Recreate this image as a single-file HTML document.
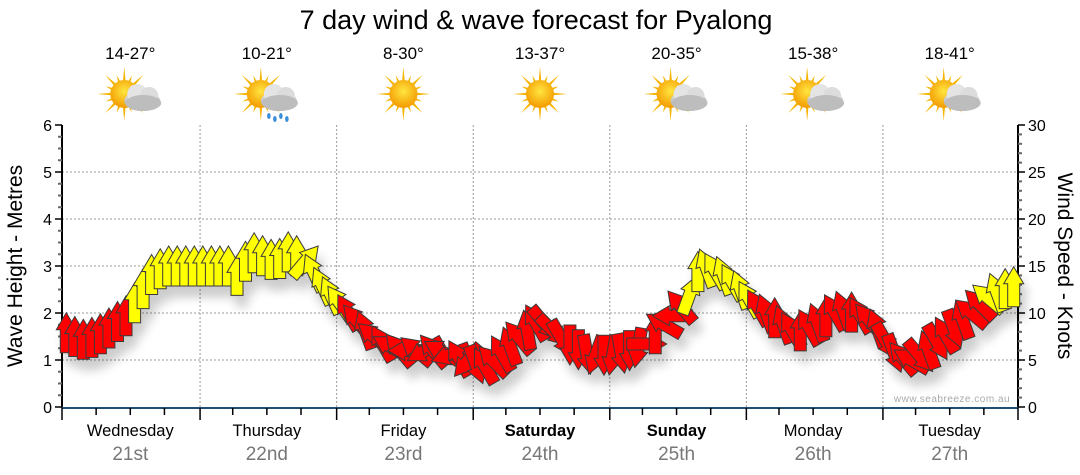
<!DOCTYPE html>
<html><head><meta charset="utf-8">
<style>
body{margin:0;background:#fff;}
svg{display:block;font-family:"Liberation Sans",sans-serif;}
</style></head>
<body>
<svg id="chart" width="1080" height="475" viewBox="0 0 1080 475">
<defs>
<filter id="sh" x="-50%" y="-50%" width="200%" height="200%">
<feGaussianBlur in="SourceAlpha" stdDeviation="5"/>
<feOffset dx="5" dy="11" result="o"/>
<feComponentTransfer><feFuncA type="linear" slope="0.2"/></feComponentTransfer>
<feMerge><feMergeNode/><feMergeNode in="SourceGraphic"/></feMerge>
</filter>
<radialGradient id="sun" cx="50%" cy="40%" r="60%"><stop offset="0" stop-color="#ffe640"/><stop offset="1" stop-color="#f39a00"/></radialGradient>
<linearGradient id="cloud" x1="0" y1="0" x2="0" y2="1"><stop offset="0" stop-color="#eeeeee"/><stop offset="1" stop-color="#9a9a9a"/></linearGradient>
</defs>
<text x="536" y="29" text-anchor="middle" font-size="27" fill="#000">7 day wind &amp; wave forecast for Pyalong</text>
<g id="grid"></g>
<g id="axes"></g>
<g id="icons"></g>
<g id="arrows" filter="url(#sh)"></g>
<text x="952" y="402" text-anchor="middle" font-size="10" fill="#aaa" letter-spacing="0.5">www.seabreeze.com.au</text>
<text transform="translate(22,266) rotate(-90)" text-anchor="middle" font-size="21" fill="#000">Wave Height - Metres</text>
<text transform="translate(1058,266) rotate(90)" text-anchor="middle" font-size="21" fill="#000">Wind Speed - Knots</text>
</svg>
<script>
const days = ["Wednesday","Thursday","Friday","Saturday","Sunday","Monday","Tuesday"];
const dates = ["21st","22nd","23rd","24th","25th","26th","27th"];
const boldDays = [false,false,false,true,true,false,false];
const temps = ["14-27°","10-21°","8-30°","13-37°","20-35°","15-38°","18-41°"];
const weather = ["partly","rain","sun","sun","partly","partly","partly"];
const waveTicks = [0,1,2,3,4,5,6];
const windTicks = [0,5,10,15,20,25,30];
const windSpeed = [7.9,7.5,7.2,7.4,7.8,8.4,9.1,9.7,11.1,12.6,14.1,14.7,15,15,15,15,15,15,15,15,14,15.5,16.4,16.1,15.7,15.8,16.5,16.1,15.5,14.3,12.9,11.9,11.1,10.1,9.2,8.2,7.5,6.8,6.4,6.1,6,6,6,6,5.9,5.6,5.2,4.9,4.5,4.4,4.9,5.7,6.5,7.4,8.2,9,8.9,8.1,7.3,6.6,6.1,5.6,5.5,5.5,5.5,5.7,6,6.3,6.7,7.8,8.8,9.7,10.7,11.9,14.4,14.8,14.5,14,13.3,12.5,11.5,10.6,10,9.5,8.8,8.2,8.1,8.5,9,9.6,10.1,10.3,10.1,9.8,9.3,8.4,7,5.7,5.2,5,5.4,6.1,6.9,7.7,8.3,9.3,10,10.9,11.6,12.2,12.6,12.8];
const windDir = [0,0,0,0,0,0,0,0,0,0,0,0,0,0,0,0,0,0,0,0,0,0,0,0,0,0,0,0,40,-25,-25,-25,
 -35,-30,-40,-20,-50,-30,-60,-40,-90,
 -50,-120,-40,-60,-110,-30,-140,160,-30,-45,
 -30,-20,-40,-10,-30,140,135,150,
 180,180,170,-160,180,-170,170,180,-170,90,
 0,-60,-90,-40,20,
 0,-20,-30,-20,-30,-20,-30,
 -30,-20,0,-20,-30,0,-30,-20,0,-30,-20,0,-30,-40,-20,
 150,160,-40,-60,140,-20,150,-30,160,-20,-50,-45,
 -50,-20,0,0];

const NS="http://www.w3.org/2000/svg";
const X0=62,X1=1018,Y0=407,Y1=125;
const nPts=windSpeed.length;
const dayW=(X1-X0)/7;
const yWave=v=>Y0-(v/6)*(Y0-Y1);
const yWind=v=>Y0-(v/30)*(Y0-Y1);
const xIdx=i=>X0+(i+0.5)*(X1-X0)/nPts;
const xDay=d=>X0+d*dayW;
function mk(tag,attrs,parent){const e=document.createElementNS(NS,tag);for(const k in attrs)e.setAttribute(k,attrs[k]);parent.appendChild(e);return e;}
const grid=document.getElementById('grid'),axes=document.getElementById('axes'),icons=document.getElementById('icons'),arrows=document.getElementById('arrows');

waveTicks.forEach(v=>{ if(v>0&&v<6){const l=mk('line',{x1:X0,x2:X1,y1:yWave(v),y2:yWave(v),stroke:'#999','stroke-dasharray':'2,2','stroke-width':1},grid);

}});
for(let d=1;d<7;d++){const l=mk('line',{x1:xDay(d)+1.5,x2:xDay(d)+1.5,y1:Y1,y2:Y0,stroke:'#999','stroke-dasharray':'2,2','stroke-width':1},grid);

}

const la=mk('line',{x1:X0,x2:X0,y1:Y1,y2:Y0+1,stroke:'#000','stroke-width':2},axes);


const ra=mk('line',{x1:X1,x2:X1,y1:Y1,y2:Y0+1,stroke:'#000','stroke-width':2},axes);


const ba=mk('line',{x1:X0,x2:X1,y1:Y0+1,y2:Y0+1,stroke:'#1d4f75','stroke-width':2},axes);


for(let k=0;k<=24;k++){const v=k*0.25,y=yWave(v),major=k%4===0;
 mk('line',{x1:X0-(major?7:4),x2:X0,y1:y,y2:y,stroke:major?'#000':'#666','stroke-width':major?1.5:2},axes);}
waveTicks.forEach(v=>{const t=mk('text',{x:X0-10,y:yWave(v)+6,'text-anchor':'end','font-size':16,fill:'#000'},axes);t.textContent=v;

});
for(let k=0;k<=30;k++){const y=yWind(k),major=k%5===0;
 mk('line',{x1:X1,x2:X1+(major?7:4),y1:y,y2:y,stroke:major?'#000':'#666','stroke-width':major?1.5:2},axes);}
windTicks.forEach(v=>{const t=mk('text',{x:X1+10,y:yWind(v)+6,'text-anchor':'start','font-size':16,fill:'#000'},axes);t.textContent=v;

});
for(let k=0;k<=28;k++){const x=X0+k*dayW/4+(k%4===0&&k>0&&k<28?1.5:0),major=k%4===0;
 mk('line',{x1:x,x2:x,y1:Y0+1,y2:Y0+(major?13:8),stroke:'#000','stroke-width':1.5},axes);}
days.forEach((d,i)=>{const cx=xDay(i)+dayW/2;
 const t=mk('text',{x:cx,y:436,'text-anchor':'middle','font-size':16.5,fill:'#000','font-weight':boldDays[i]?'bold':'normal'},axes);t.textContent=d;
 
 
 const t2=mk('text',{x:cx,y:460,'text-anchor':'middle','font-size':19,fill:'#777'},axes);t2.textContent=dates[i];
 
 
 const t3=mk('text',{x:cx,y:59,'text-anchor':'middle','font-size':17,fill:'#000'},icons);t3.textContent=temps[i];
 
 
 const g=mk('g',{transform:`translate(${cx},96)`},icons);
 
 
 const sx=weather[i]==='sun'?0:-6;
 for(let r=0;r<16;r++){const a=r*Math.PI/8,l=r%2?20:27;
  mk('polygon',{points:`${sx+Math.cos(a-0.12)*12},${-2+Math.sin(a-0.12)*12} ${sx+Math.cos(a)*l},${-2+Math.sin(a)*l} ${sx+Math.cos(a+0.12)*12},${-2+Math.sin(a+0.12)*12}`,fill:'#f5b400'},g);}
 mk('circle',{cx:sx,cy:-2,r:14,fill:'url(#sun)'},g);
 if(weather[i]!=='sun'){
  mk('ellipse',{cx:12,cy:5,rx:18,ry:10,fill:'url(#cloud)'},g);
  mk('circle',{cx:7,cy:-2,r:10,fill:'#e4e4e4'},g);
  mk('circle',{cx:19,cy:0,r:9,fill:'#dcdcdc'},g);
  mk('ellipse',{cx:13,cy:7,rx:18,ry:8,fill:'#bdbdbd'},g);
  if(weather[i]==='rain'){[[2,20],[8,23],[14,20],[20,23]].forEach(p=>mk('ellipse',{cx:p[0],cy:p[1],rx:1.8,ry:3,fill:'#3a8fd8'},g));}
 }
});

const L=40,HW=10,HL=17,SW=6;
windSpeed.forEach((v,i)=>{
 const x=xIdx(i),y=yWind(v);
 const p=`0,${-L/2} ${HW},${-L/2+HL} ${SW},${-L/2+HL} ${SW},${L/2} ${-SW},${L/2} ${-SW},${-L/2+HL} ${-HW},${-L/2+HL}`;
 const a=mk('polygon',{points:p,transform:`translate(${x.toFixed(1)},${y.toFixed(1)}) rotate(${windDir[i]})`,fill:v>=11?'#ffff00':'#ff0000',stroke:'#3a3a3a','stroke-width':1},arrows);
 
 
});
</script>
</body></html>
